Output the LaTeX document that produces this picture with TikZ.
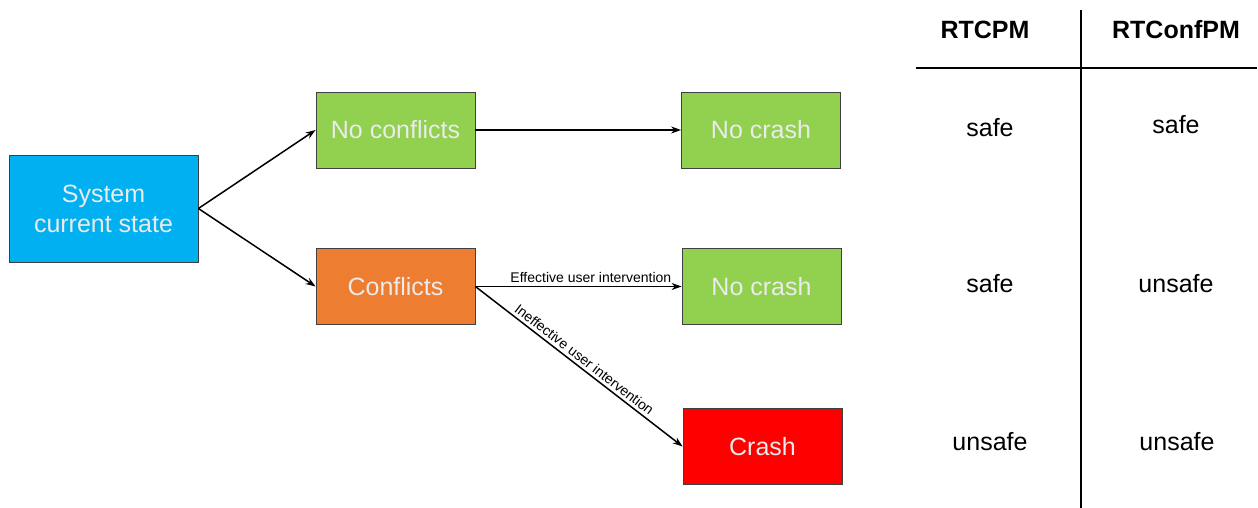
\documentclass[tikz,border=0pt]{standalone}
\usepackage{fontspec}
\setmainfont{Liberation Sans}
\usetikzlibrary{arrows.meta}
\definecolor{boxblue}{HTML}{00B0F0}
\definecolor{boxgreen}{HTML}{92D050}
\definecolor{boxorange}{HTML}{ED7D31}
\definecolor{boxred}{HTML}{FF0000}
\definecolor{boxedge}{HTML}{404040}
\begin{document}
\begin{tikzpicture}[x=1pt,y=-1pt,
  statebox/.style={draw=boxedge,line width=0.8pt,text=white!92!black,
    font=\fontsize{25}{30}\selectfont,align=center,inner sep=0pt,
    minimum width=159pt,minimum height=76pt},
  flow/.style={line width=1.5pt,-{Stealth[length=10pt,width=7pt]}},
  edgelabel/.style={font=\fontsize{14}{16}\selectfont,inner sep=3pt},
  cell/.style={font=\fontsize{25}{30}\selectfont,inner sep=0pt},
  head/.style={font=\fontsize{25}{30}\selectfont\bfseries,inner sep=0pt},
  rule/.style={line width=1.6pt}]
\useasboundingbox (0,0) rectangle (1258,508);

% decision flow
\node[statebox,fill=boxblue,minimum width=189pt,minimum height=107pt] (sys) at (103.5,208.5) {System\\current state};
\node[statebox,fill=boxgreen] (noconf) at (395.5,130) {No conflicts};
\node[statebox,fill=boxorange] (conf) at (395.5,286.5) {Conflicts};
\node[statebox,fill=boxgreen] (nocrash1) at (761,130) {No crash};
\node[statebox,fill=boxgreen] (nocrash2) at (761.5,286.5) {No crash};
\node[statebox,fill=boxred] (crash) at (762.5,446.5) {Crash};

\draw[flow] (sys.east) -- (noconf.west);
\draw[flow] (sys.east) -- (conf.west);
\draw[flow] (noconf.east) -- (nocrash1.west);
\draw[flow] (conf.east) -- node[edgelabel,pos=0.56,above] (efflab) {Effective user intervention} (nocrash2.west);
\draw[flow] (conf.east) -- node[edgelabel,midway,sloped,above] (inefflab) {Ineffective user intervention} (crash.west);

% outcome table
\coordinate (hl) at (916,68);
\coordinate (hr) at (1257,68);
\coordinate (vt) at (1081,10);
\coordinate (vb) at (1081,508);
\draw[rule] (hl) -- (hr);
\draw[rule] (vt) -- (vb);

\node[head] (h1) at (985,30) {RTCPM};
\node[head] (h2) at (1176,30) {RTConfPM};
\node[cell] (a1) at (990,128) {safe};
\node[cell] (b1) at (1176,125) {safe};
\node[cell] (a2) at (990,284) {safe};
\node[cell] (b2) at (1176,284) {unsafe};
\node[cell] (a3) at (990,442) {unsafe};
\node[cell] (b3) at (1177,442) {unsafe};
\end{tikzpicture}
\end{document}
